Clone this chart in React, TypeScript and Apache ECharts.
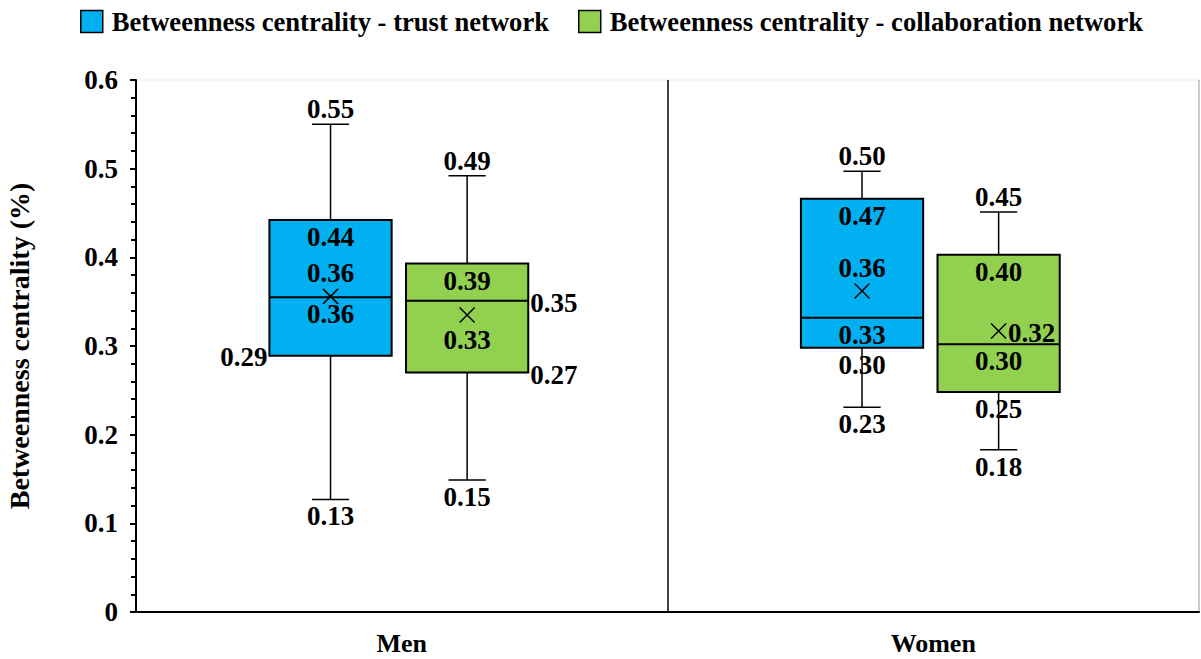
import React, { useEffect, useRef } from 'react';
import * as echarts from 'echarts';

const categories = ['Men', 'Women'];
const seriesNames = [
  'Betweenness centrality - trust network',
  'Betweenness centrality - collaboration network',
];
const seriesColors = ['#00B0F0', '#92D050'];

// [min, Q1, median, Q3, max, mean]
const trustStats = [
  [0.127, 0.289, 0.355, 0.442, 0.55, 0.356],
  [0.231, 0.298, 0.332, 0.466, 0.497, 0.362],
];
const collabStats = [
  [0.149, 0.27, 0.351, 0.393, 0.492, 0.335],
  [0.183, 0.248, 0.302, 0.403, 0.451, 0.317],
];

// [text, stat index (0 min .. 5 mean), placement]
const trustLabels = [
  [['0.55', 4, 'above'], ['0.44', 3, 'below'], ['0.36', 5, 'above'], ['0.36', 2, 'below'], ['0.29', 1, 'left'], ['0.13', 0, 'below']],
  [['0.50', 4, 'above'], ['0.47', 3, 'below'], ['0.36', 5, 'above'], ['0.33', 2, 'below'], ['0.30', 1, 'below'], ['0.23', 0, 'below']],
];
const collabLabels = [
  [['0.49', 4, 'above'], ['0.39', 3, 'below'], ['0.35', 2, 'right'], ['0.33', 5, 'below'], ['0.27', 1, 'right'], ['0.15', 0, 'below']],
  [['0.45', 4, 'above'], ['0.40', 3, 'below'], ['0.32', 5, 'right'], ['0.30', 2, 'below'], ['0.25', 1, 'below'], ['0.18', 0, 'below']],
];

const yTicks = { min: 0, max: 0.6, interval: 0.1 };

const FONT_FAMILY = "'Liberation Serif', 'Times New Roman', serif";
const FONT_SIZE = 27;
const LABEL_FONT = `bold ${FONT_SIZE}px ${FONT_FAMILY}`;
const BOX_RATIO = 0.23;
const CAP_RATIO = 0.07;
const MARK_HALF = 7.5;

function makeRender(labels: any[], offsetRatio: number) {
  return (params: any, api: any) => {
    const i = params.dataIndex;
    const ci = api.value(0);
    const band = api.size([1, 0])[0];
    const cx = api.coord([ci, 0])[0] + offsetRatio * band;
    const ys = [1, 2, 3, 4, 5, 6].map((d) => api.coord([ci, api.value(d)])[1]);
    const [yMin, yQ1, yMed, yQ3, yMax, yMean] = ys;
    const bw = BOX_RATIO * band;
    const cw = CAP_RATIO * band;
    const left = cx - bw / 2;
    const right = cx + bw / 2;
    const color = api.visual('color');
    const ln = (x1: number, y1: number, x2: number, y2: number, w: number) => ({
      type: 'line',
      shape: { x1, y1, x2, y2 },
      style: { stroke: '#000', lineWidth: w },
    });
    const children: any[] = [];
    children.push({
      type: 'rect',
      shape: { x: left, y: yQ3, width: bw, height: yQ1 - yQ3 },
      style: { fill: color, stroke: '#000', lineWidth: 2 },
    });
    children.push(ln(left, yMed, right, yMed, 2));
    (labels[i] || []).forEach((lb: any) => {
      const [text, si, place] = lb;
      const yy = ys[si];
      const isMean = si === 5;
      let x = cx;
      let y = yy;
      let align = 'center';
      if (place === 'above') y = yy - (isMean ? 23 : 15);
      else if (place === 'below') y = yy + (isMean ? 25 : 17);
      else if (place === 'right') {
        x = isMean ? cx + MARK_HALF + 2 : right + 2;
        y = yy + 2;
        align = 'left';
      } else if (place === 'left') {
        x = left - 2;
        y = yy + 1;
        align = 'right';
      }
      children.push({
        type: 'text',
        x,
        y,
        style: {
          text,
          fill: '#000',
          font: LABEL_FONT,
          textAlign: align,
          textVerticalAlign: 'middle',
        },
      });
    });
    children.push(ln(cx, yMax, cx, yQ3, 1.5));
    children.push(ln(cx, yQ1, cx, yMin, 1.5));
    children.push(ln(cx - cw / 2, yMax, cx + cw / 2, yMax, 1.5));
    children.push(ln(cx - cw / 2, yMin, cx + cw / 2, yMin, 1.5));
    children.push(ln(cx - MARK_HALF, yMean - MARK_HALF, cx + MARK_HALF, yMean + MARK_HALF, 1.5));
    children.push(ln(cx - MARK_HALF, yMean + MARK_HALF, cx + MARK_HALF, yMean - MARK_HALF, 1.5));
    return { type: 'group', children };
  };
}

export default function App() {
  const ref = useRef<HTMLDivElement>(null);
  useEffect(() => {
    if (!ref.current) return;
    const chart = echarts.init(ref.current, null, { renderer: 'svg' });
    const mkData = (stats: number[][]) => stats.map((s, i) => [i, ...s]);
    chart.setOption({
      animation: false,
      backgroundColor: '#fff',
      legend: {
        data: seriesNames,
        left: 75,
        top: 3,
        icon: 'rect',
        itemWidth: 22,
        itemHeight: 22,
        itemGap: 29,
        itemStyle: { borderColor: '#000', borderWidth: 1.5 },
        textStyle: {
          color: '#000',
          fontFamily: FONT_FAMILY,
          fontWeight: 'bold',
          fontSize: 26.6,
          padding: [0, 0, 0, 4],
        },
      },
      grid: {
        left: 136,
        right: 2,
        top: 80,
        bottom: 47,
        show: true,
        borderColor: '#ececec',
        borderWidth: 1,
        outerBoundsMode: 'none',
        containLabel: false,
      },
      xAxis: {
        type: 'category',
        data: categories,
        axisLine: { lineStyle: { color: '#000', width: 2 } },
        axisTick: { show: false },
        axisLabel: {
          color: '#000',
          fontFamily: FONT_FAMILY,
          fontWeight: 'bold',
          fontSize: 26,
          lineHeight: 24,
          margin: 19,
        },
        splitLine: {
          show: true,
          lineStyle: { color: ['#000', '#000', '#bdbdbd'], width: 1.5 },
        },
      },
      yAxis: {
        type: 'value',
        min: yTicks.min,
        max: yTicks.max,
        interval: yTicks.interval,
        name: 'Betweenness centrality (%)',
        nameLocation: 'middle',
        nameRotate: 90,
        nameGap: 103,
        nameTextStyle: {
          color: '#000',
          fontFamily: FONT_FAMILY,
          fontWeight: 'bold',
          fontSize: 28,
        },
        axisLine: { show: true, lineStyle: { color: '#000', width: 2 } },
        axisTick: { show: true, length: 6, lineStyle: { color: '#000', width: 2 } },
        minorTick: { show: true, splitNumber: 5, length: 5, lineStyle: { color: '#000', width: 2 } },
        splitLine: { show: false },
        axisLabel: {
          color: '#000',
          fontFamily: FONT_FAMILY,
          fontWeight: 'bold',
          fontSize: FONT_SIZE,
          margin: 18,
        },
      },
      series: [
        {
          name: seriesNames[0],
          type: 'custom',
          coordinateSystem: 'cartesian2d',
          itemStyle: { color: seriesColors[0] },
          encode: { x: 0, y: [1, 2, 3, 4, 5, 6] },
          renderItem: makeRender(trustLabels, -0.134),
          data: mkData(trustStats),
        },
        {
          name: seriesNames[1],
          type: 'custom',
          coordinateSystem: 'cartesian2d',
          itemStyle: { color: seriesColors[1] },
          encode: { x: 0, y: [1, 2, 3, 4, 5, 6] },
          renderItem: makeRender(collabLabels, 0.123),
          data: mkData(collabStats),
        },
      ],
    });
    return () => chart.dispose();
  }, []);
  return (
    <div
      ref={ref}
      style={{ position: 'fixed', left: 0, top: 0, width: 1201, height: 659, background: '#fff' }}
    />
  );
}
